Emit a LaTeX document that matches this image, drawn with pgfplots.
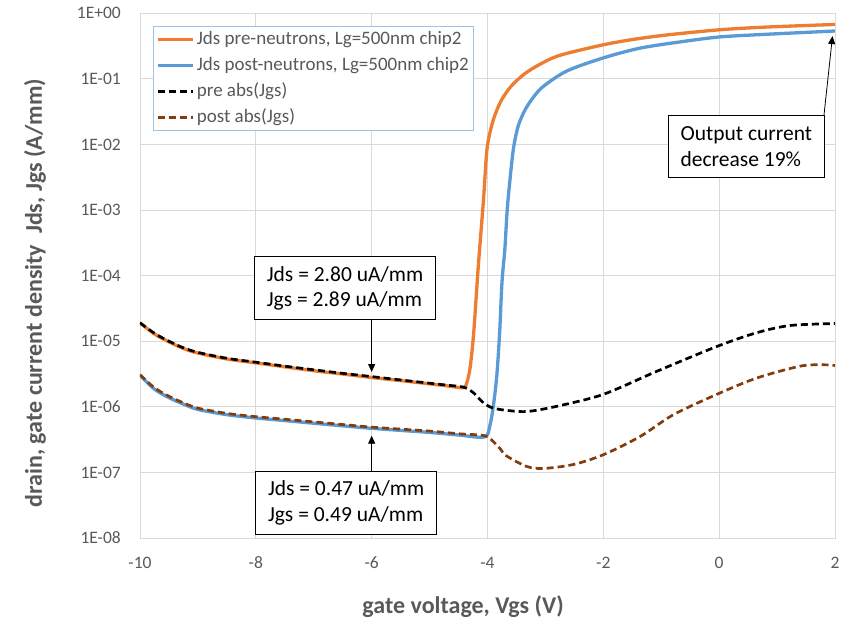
\documentclass[border=0pt]{standalone}
\usepackage{fontspec}
\setmainfont{Carlito}
\usepackage{pgfplots}
\pgfplotsset{compat=1.18}
\usetikzlibrary{arrows.meta}
\definecolor{xlorange}{HTML}{ED7D31}
\definecolor{xlblue}{HTML}{5B9BD5}
\definecolor{xlbrown}{HTML}{843C0C}
\definecolor{gridc}{HTML}{D9D9D9}
\definecolor{txt}{HTML}{595959}
\definecolor{legbord}{HTML}{9DC3E6}
\begin{document}
\begin{tikzpicture}
\useasboundingbox (-140bp,-84bp) rectangle (708bp,538bp);
\begin{axis}[
  at={(0,0)}, anchor=south west,
  scale only axis, width=695bp, height=524.7bp,
  xmin=-10, xmax=2, ymode=log, ymin=1e-8, ymax=1,
  xtick={-10,-8,-6,-4,-2,0,2}, xticklabels={-10,-8,-6,-4,-2,0,2},
  ytick={1e-8,1e-7,1e-6,1e-5,1e-4,1e-3,1e-2,1e-1,1},
  yticklabels={1E-08,1E-07,1E-06,1E-05,1E-04,1E-03,1E-02,1E-01,1E+00},
  yminorticks=false,
  grid=major, major grid style={draw=gridc, line width=0.8bp},
  axis line style={draw=gridc, line width=0.8bp},
  major tick length=0pt, minor tick length=0pt,
  tick label style={font=\fontsize{17.5bp}{20bp}\selectfont, text=txt},
  yticklabel style={anchor=east, inner sep=0pt, xshift=-19bp},
  xticklabel style={anchor=center, inner sep=0pt, yshift=-25bp},
  xlabel={gate voltage, Vgs (V)},
  ylabel={drain, gate current density\ \ Jds, Jgs (A/mm)},
  label style={font=\bfseries\fontsize{24bp}{28bp}\selectfont, text=txt},
  xlabel style={at={(axis description cs:0.465,-0.131)}, anchor=center},
  ylabel style={at={(axis description cs:-0.151,0.467)}, anchor=center},
  legend cell align=left,
  legend style={at={(0.019,0.976)}, anchor=north west, draw=legbord, line width=0.8bp,
    font=\fontsize{19bp}{23bp}\selectfont, text=txt, inner xsep=3bp, inner ysep=0bp,
    row sep=0bp, column sep=0bp,
    nodes={text height=14bp, text depth=4bp, inner ysep=4bp, inner xsep=2bp}},
  legend image code/.code={\draw[#1] (0bp,0bp) -- (35bp,0bp);},
]
\addplot[xlorange, line width=3.3bp, line join=round, smooth, tension=0.5] coordinates {
(-10,1.91e-5) (-9.75,1.29e-5) (-9.5,9.77e-6) (-9.25,7.76e-6) (-9,6.61e-6)
(-8.5,5.37e-6) (-8,4.68e-6) (-7.5,4.07e-6) (-7,3.55e-6) (-6.5,3.16e-6)
(-6,2.80e-6) (-5.5,2.51e-6) (-5,2.24e-6) (-4.7,2.09e-6) (-4.42,1.95e-6)
(-4.36,2.29e-6) (-4.30,3.98e-6) (-4.24,1.29e-5) (-4.16,1.35e-4) (-4.07,1.41e-3)
(-4.01,8.32e-3) (-3.93,1.91e-2) (-3.85,3.16e-2) (-3.75,4.90e-2) (-3.6,7.59e-2)
(-3.4,0.112) (-3.2,0.148) (-2.9,0.204) (-2.63,0.245) (-2.0,0.331)
(-1.5,0.398) (-0.9,0.468) (0.02,0.562) (0.82,0.617) (2.0,0.676)
};
\addlegendentry{Jds pre-neutrons, Lg=500nm chip2}
\addplot[xlblue, line width=3.3bp, line join=round, smooth, tension=0.5] coordinates {
(-10,3.02e-6) (-9.75,1.86e-6) (-9.5,1.38e-6) (-9.25,1.10e-6) (-9,9.12e-7)
(-8.5,7.59e-7) (-8,6.76e-7) (-7.5,6.17e-7) (-7,5.62e-7) (-6.5,5.13e-7)
(-6,4.70e-7) (-5.5,4.37e-7) (-5,4.07e-7) (-4.5,3.72e-7) (-4.05,3.47e-7)
(-3.96,5.13e-7) (-3.90,1.02e-6) (-3.84,2.95e-6) (-3.79,1.38e-5) (-3.75,7.94e-5)
(-3.70,2.57e-4) (-3.66,1.0e-3) (-3.61,3.02e-3) (-3.55,8.91e-3) (-3.47,1.91e-2)
(-3.35,3.39e-2) (-3.2,5.37e-2) (-3.03,7.76e-2) (-2.63,0.132) (-2.0,0.209)
(-1.36,0.295) (-0.62,0.372) (0.02,0.437) (0.82,0.479) (2.0,0.537)
};
\addlegendentry{Jds post-neutrons, Lg=500nm chip2}
\addplot[black, line width=2.7bp, dash pattern=on 7bp off 4bp, smooth, tension=0.5] coordinates {
(-10,1.91e-5) (-9.75,1.32e-5) (-9.5,1.0e-5) (-9.25,7.94e-6) (-9,6.76e-6)
(-8.5,5.50e-6) (-8,4.79e-6) (-7.5,4.17e-6) (-7,3.67e-6) (-6.5,3.24e-6)
(-6,2.89e-6) (-5.5,2.57e-6) (-5,2.29e-6) (-4.7,2.14e-6) (-4.42,2.0e-6)
(-4.25,1.66e-6) (-4.07,1.15e-6) (-3.90,9.55e-7) (-3.61,8.71e-7) (-3.3,8.51e-7)
(-2.8,1.02e-6) (-2.0,1.55e-6) (-1.08,3.47e-6) (-0.04,8.32e-6) (0.65,1.35e-5)
(1.23,1.74e-5) (2.0,1.86e-5)
};
\addlegendentry{pre abs(Jgs)}
\addplot[xlbrown, line width=2.7bp, dash pattern=on 7bp off 4bp, smooth, tension=0.5] coordinates {
(-10,3.09e-6) (-9.75,1.95e-6) (-9.5,1.45e-6) (-9.25,1.15e-6) (-9,9.55e-7)
(-8.5,7.94e-7) (-8,7.08e-7) (-7.5,6.46e-7) (-7,5.89e-7) (-6.5,5.37e-7)
(-6,4.90e-7) (-5.5,4.57e-7) (-5,4.27e-7) (-4.5,3.89e-7) (-4.05,3.63e-7)
(-3.90,2.95e-7) (-3.78,2.29e-7) (-3.67,1.78e-7) (-3.32,1.23e-7) (-3.03,1.15e-7)
(-2.52,1.32e-7) (-2.0,1.86e-7) (-1.36,3.55e-7) (-0.79,7.59e-7) (-0.04,1.55e-6)
(0.65,2.75e-6) (1.40,4.17e-6) (1.80,4.37e-6) (2.0,4.27e-6)
};
\addlegendentry{post abs(Jgs)}
\draw[-{Triangle[length=8bp,width=7bp]}, line width=0.8bp] (axis cs:-6,2.09e-5) -- (axis cs:-6,3.39e-6);
\draw[-{Triangle[length=8bp,width=7bp]}, line width=0.8bp] (axis cs:-6,1.05e-7) -- (axis cs:-6,3.63e-7);
\draw[-{Triangle[length=8bp,width=7bp]}, line width=0.8bp] (axis cs:1.81,2.82e-2) -- (axis cs:1.957,0.45);
\node[draw=black, line width=1bp, fill=white, align=left, font=\fontsize{21.5bp}{25.7bp}\selectfont, minimum width=181bp, minimum height=63bp] at (axis cs:-6.46,6.38e-5) {Jds = 2.80 uA/mm\\Jgs = 2.89 uA/mm};
\node[draw=black, line width=1bp, fill=white, align=left, font=\fontsize{21.5bp}{25.7bp}\selectfont, minimum width=181bp, minimum height=63bp] at (axis cs:-6.44,3.43e-8) {Jds = 0.47 uA/mm\\Jgs = 0.49 uA/mm};
\node[draw=black, line width=1bp, fill=white, align=left, font=\fontsize{21.5bp}{25.7bp}\selectfont, minimum width=156bp, minimum height=62bp] at (axis cs:0.47,9.23e-3) {Output current\\decrease 19\%};
\end{axis}
\end{tikzpicture}
\end{document}
